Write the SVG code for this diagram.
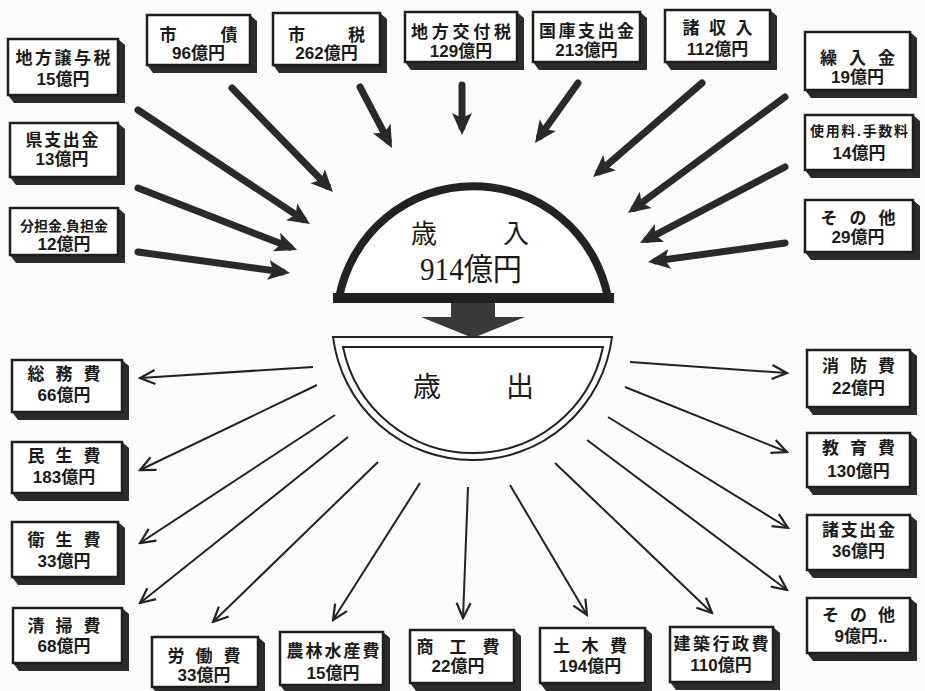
<svg xmlns="http://www.w3.org/2000/svg" width="925" height="691" viewBox="0 0 925 691">
<style>
.bx{fill:#fff;stroke:#1e1e1e;stroke-width:2.5}
.sh{fill:#2b2b2b}
.t1,.ts{font-family:"Liberation Sans","Noto Sans CJK JP","Noto Sans CJK SC",sans-serif;font-weight:700;fill:#1a1a1a;text-anchor:middle;font-size:17px}
.ts tspan.s{font-size:14px}
.cin{fill:none;stroke:#2a2a2a;stroke-width:7;stroke-linecap:round}
.cout{fill:none;stroke:#222;stroke-width:2}
.ctr{font-family:"Liberation Serif","Noto Sans CJK JP",serif;font-size:26px;fill:#1a1a1a;text-anchor:middle}
</style>
<defs>
<marker id="ahIn" markerUnits="userSpaceOnUse" viewBox="0 -11 22 22" refX="14" refY="0" markerWidth="22" markerHeight="22" orient="auto"><path d="M0,-10 L22,0 L0,10 L5,0 z" fill="#2a2a2a"/></marker>
<marker id="ahOut" markerUnits="userSpaceOnUse" viewBox="-17 -10 19 20" refX="0" refY="0" markerWidth="19" markerHeight="20" orient="auto"><path d="M-15,-7 L0,0 L-15,7" fill="none" stroke="#222" stroke-width="2.2"/></marker>
</defs>
<rect width="925" height="691" fill="#fbfbf9"/>

<g id="connectors">
<line class="cin" x1="232" y1="88" x2="327.4" y2="186.3" marker-end="url(#ahIn)"/>
<line class="cin" x1="138" y1="110" x2="303.3" y2="219.6" marker-end="url(#ahIn)"/>
<line class="cin" x1="138" y1="188" x2="289.6" y2="247.1" marker-end="url(#ahIn)"/>
<line class="cin" x1="138" y1="252" x2="282.1" y2="271.9" marker-end="url(#ahIn)"/>
<line class="cin" x1="360" y1="87" x2="388.3" y2="140.9" marker-end="url(#ahIn)"/>
<line class="cin" x1="462" y1="85" x2="462" y2="127" marker-end="url(#ahIn)"/>
<line class="cin" x1="578" y1="83" x2="539.7" y2="136.5" marker-end="url(#ahIn)"/>
<line class="cin" x1="702" y1="83" x2="599.1" y2="171.8" marker-end="url(#ahIn)"/>
<line class="cin" x1="785" y1="97" x2="634.4" y2="208.2" marker-end="url(#ahIn)"/>
<line class="cin" x1="785" y1="167" x2="647.1" y2="239.3" marker-end="url(#ahIn)"/>
<line class="cin" x1="785" y1="243" x2="655.9" y2="260.9" marker-end="url(#ahIn)"/>

<line class="cout" x1="313" y1="367" x2="140" y2="378" marker-end="url(#ahOut)"/>
<line class="cout" x1="317" y1="385" x2="140" y2="470" marker-end="url(#ahOut)"/>
<line class="cout" x1="335" y1="415" x2="140" y2="543" marker-end="url(#ahOut)"/>
<line class="cout" x1="348" y1="437" x2="140" y2="603" marker-end="url(#ahOut)"/>
<line class="cout" x1="378" y1="462" x2="213" y2="622" marker-end="url(#ahOut)"/>
<line class="cout" x1="420" y1="483" x2="333" y2="620" marker-end="url(#ahOut)"/>
<line class="cout" x1="468" y1="487" x2="463" y2="618" marker-end="url(#ahOut)"/>
<line class="cout" x1="510" y1="485" x2="587" y2="615" marker-end="url(#ahOut)"/>
<line class="cout" x1="555" y1="463" x2="712" y2="613" marker-end="url(#ahOut)"/>
<line class="cout" x1="587" y1="440" x2="787" y2="590" marker-end="url(#ahOut)"/>
<line class="cout" x1="608" y1="417" x2="788" y2="528" marker-end="url(#ahOut)"/>
<line class="cout" x1="625" y1="387" x2="787" y2="452" marker-end="url(#ahOut)"/>
<line class="cout" x1="630" y1="362" x2="787" y2="373" marker-end="url(#ahOut)"/>
</g>

<g id="revenue">
<path d="M339,298 A136.8,136.8 0 0 1 608,298 Z" fill="#fff" stroke="#222" stroke-width="8"/>
<rect x="333" y="293" width="281" height="10" fill="#222"/>
<text class="ctr" x="470" y="243"><tspan x="424">歳</tspan><tspan x="516">入</tspan><tspan x="471" y="280" textLength="102" lengthAdjust="spacingAndGlyphs" style="font-size:31px">914億円</tspan></text>
</g>

<g id="flow-arrow">
<polygon points="451,303 495,303 495,317 525,317 473,338 421,317 451,317" fill="#3a3a3a"/>
</g>

<g id="expenditure">
<path d="M333,337 L612,337 A140.6,140.6 0 0 1 333,337 Z" fill="#fff" stroke="#222" stroke-width="2"/>
<path d="M343,347 L603,347 A132.7,132.7 0 0 1 343,347 Z" fill="#fff" stroke="#222" stroke-width="2"/>
<text class="ctr" x="427" y="397" style="font-size:28px"><tspan x="427">歳</tspan><tspan x="520">出</tspan></text>
</g>

<g id="n-jouyo"><polygon class="sh" points="118,39 125,45 125,103 14,103 8,95"/><rect class="bx" x="8" y="39" width="110" height="56"/><text class="t1"><tspan x="63" y="64" textLength="95">地方譲与税</tspan><tspan x="63" y="85">15億円</tspan></text></g>
<g id="n-shisai"><polygon class="sh" points="250,15 257,21 257,73 153,73 147,65"/><rect class="bx" x="147" y="15" width="103" height="50"/><text class="t1"><tspan x="198.5" y="41" textLength="78">市 債</tspan><tspan x="198.5" y="59">96億円</tspan></text></g>
<g id="n-shizei"><polygon class="sh" points="380,13 387,19 387,73 279,73 273,65"/><rect class="bx" x="273" y="13" width="107" height="52"/><text class="t1"><tspan x="326.5" y="41" textLength="77">市 税</tspan><tspan x="326.5" y="59">262億円</tspan></text></g>
<g id="n-koufu"><polygon class="sh" points="517,12 524,18 524,70 411,70 405,62"/><rect class="bx" x="405" y="12" width="112" height="50"/><text class="t1"><tspan x="461" y="38" textLength="100">地方交付税</tspan><tspan x="461" y="57">129億円</tspan></text></g>
<g id="n-kokko"><polygon class="sh" points="640,12 647,18 647,70 539,70 533,62"/><rect class="bx" x="533" y="12" width="107" height="50"/><text class="t1"><tspan x="586.5" y="36.5" textLength="95">国庫支出金</tspan><tspan x="586.5" y="56">213億円</tspan></text></g>
<g id="n-shoshu"><polygon class="sh" points="770,10 777,16 777,70 671,70 665,62"/><rect class="bx" x="665" y="10" width="105" height="52"/><text class="t1"><tspan x="717.5" y="34" textLength="70">諸 収 入</tspan><tspan x="717.5" y="55">112億円</tspan></text></g>
<g id="n-kuriire"><polygon class="sh" points="910,32 917,38 917,98 811,98 805,90"/><rect class="bx" x="805" y="32" width="105" height="58"/><text class="t1"><tspan x="857.5" y="64" textLength="75">繰 入 金</tspan><tspan x="857.5" y="83">19億円</tspan></text></g>
<g id="n-shiyou"><polygon class="sh" points="913,115 920,121 920,178 811,178 805,170"/><rect class="bx" x="805" y="115" width="108" height="55"/><text class="ts"><tspan class="s" x="859" y="136" textLength="98">使用料.手数料</tspan><tspan x="859" y="159">14億円</tspan></text></g>
<g id="n-sonota1"><polygon class="sh" points="913,200 920,206 920,260 811,260 805,252"/><rect class="bx" x="805" y="200" width="108" height="52"/><text class="t1"><tspan x="858" y="224" textLength="75">そ の 他</tspan><tspan x="858" y="243">29億円</tspan></text></g>
<g id="n-ken"><polygon class="sh" points="118,123 125,129 125,185 16,185 10,177"/><rect class="bx" x="10" y="123" width="108" height="54"/><text class="t1"><tspan x="62" y="146" textLength="73">県支出金</tspan><tspan x="62" y="165">13億円</tspan></text></g>
<g id="n-buntan"><polygon class="sh" points="118,208 125,214 125,263 16,263 10,255"/><rect class="bx" x="10" y="208" width="108" height="47"/><text class="ts"><tspan class="s" x="64" y="231" textLength="88">分担金.負担金</tspan><tspan x="64" y="250">12億円</tspan></text></g>
<g id="n-soumu"><polygon class="sh" points="122,360 129,366 129,420 18,420 12,412"/><rect class="bx" x="12" y="360" width="110" height="52"/><text class="t1"><tspan x="64" y="380" textLength="73">総 務 費</tspan><tspan x="64" y="401">66億円</tspan></text></g>
<g id="n-minsei"><polygon class="sh" points="122,442 129,448 129,501 18,501 12,493"/><rect class="bx" x="12" y="442" width="110" height="51"/><text class="t1"><tspan x="64" y="462" textLength="73">民 生 費</tspan><tspan x="64" y="483">183億円</tspan></text></g>
<g id="n-eisei"><polygon class="sh" points="118,522 125,528 125,585 18,585 12,577"/><rect class="bx" x="12" y="522" width="106" height="55"/><text class="t1"><tspan x="64" y="546" textLength="73">衛 生 費</tspan><tspan x="64" y="567">33億円</tspan></text></g>
<g id="n-seisou"><polygon class="sh" points="122,608 129,614 129,671 19,671 13,663"/><rect class="bx" x="13" y="608" width="109" height="55"/><text class="t1"><tspan x="64" y="632" textLength="73">清 掃 費</tspan><tspan x="64" y="652">68億円</tspan></text></g>
<g id="n-roudou"><polygon class="sh" points="258,637 265,643 265,695 158,695 152,687"/><rect class="bx" x="152" y="637" width="106" height="50"/><text class="t1"><tspan x="204" y="662" textLength="73">労 働 費</tspan><tspan x="204" y="681">33億円</tspan></text></g>
<g id="n-nourin"><polygon class="sh" points="383,632 390,638 390,693 286,693 280,685"/><rect class="bx" x="280" y="632" width="103" height="53"/><text class="t1"><tspan x="333" y="657" textLength="93">農林水産費</tspan><tspan x="333" y="679">15億円</tspan></text></g>
<g id="n-shoukou"><polygon class="sh" points="514,630 521,636 521,691 416,691 410,683"/><rect class="bx" x="410" y="630" width="104" height="53"/><text class="t1"><tspan x="458" y="653" textLength="83">商 工 費</tspan><tspan x="458" y="672">22億円</tspan></text></g>
<g id="n-doboku"><polygon class="sh" points="645,628 652,634 652,691 546,691 540,683"/><rect class="bx" x="540" y="628" width="105" height="55"/><text class="t1"><tspan x="590" y="652" textLength="74">土 木 費</tspan><tspan x="590" y="672">194億円</tspan></text></g>
<g id="n-kenchiku"><polygon class="sh" points="773,627 780,633 780,690 676,690 670,682"/><rect class="bx" x="670" y="627" width="103" height="55"/><text class="t1"><tspan x="721" y="650" textLength="95">建築行政費</tspan><tspan x="721" y="671">110億円</tspan></text></g>
<g id="n-shoubou"><polygon class="sh" points="910,350 917,356 917,415 813,415 807,407"/><rect class="bx" x="807" y="350" width="103" height="57"/><text class="t1"><tspan x="858.5" y="372" textLength="73">消 防 費</tspan><tspan x="858.5" y="394">22億円</tspan></text></g>
<g id="n-kyouiku"><polygon class="sh" points="910,433 917,439 917,495 813,495 807,487"/><rect class="bx" x="807" y="433" width="103" height="54"/><text class="t1"><tspan x="858.5" y="454" textLength="73">教 育 費</tspan><tspan x="858.5" y="477">130億円</tspan></text></g>
<g id="n-shishutsu"><polygon class="sh" points="910,515 917,521 917,578 813,578 807,570"/><rect class="bx" x="807" y="515" width="103" height="55"/><text class="t1"><tspan x="858.5" y="536" textLength="73">諸支出金</tspan><tspan x="858.5" y="557">36億円</tspan></text></g>
<g id="n-sonota2"><polygon class="sh" points="910,598 917,604 917,661 813,661 807,653"/><rect class="bx" x="807" y="598" width="103" height="55"/><text class="t1"><tspan x="858.5" y="621" textLength="73">そ の 他</tspan><tspan x="861" y="642">9億円..</tspan></text></g>
</svg>
